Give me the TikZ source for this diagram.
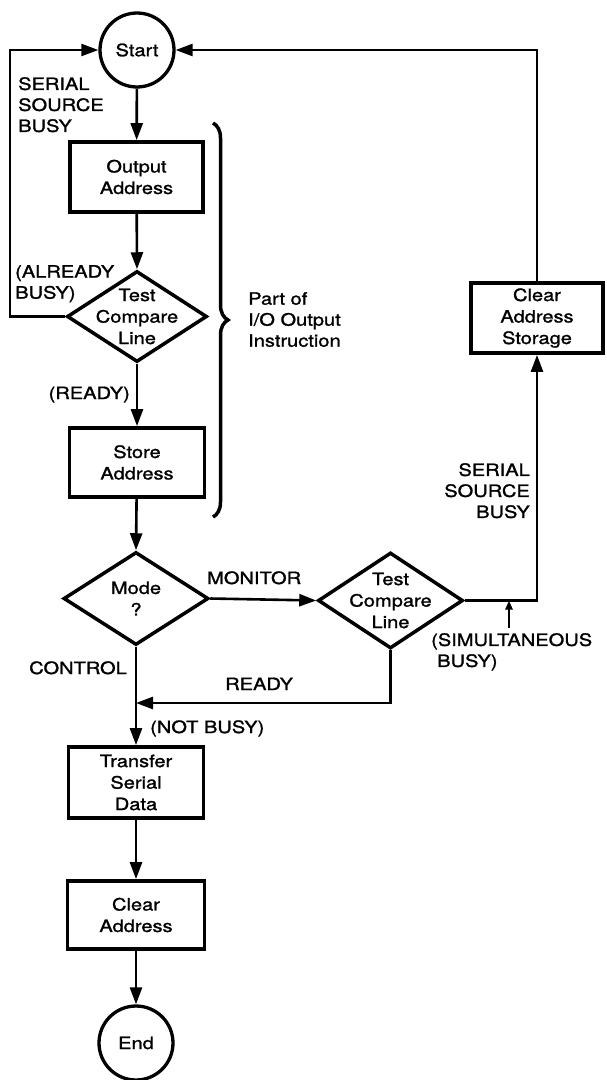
\documentclass[tikz,border=0pt]{standalone}
\usepackage{fontspec}
\setmainfont{TeX Gyre Heros}[FakeStretch=1.18,FakeBold=1.3]
\usetikzlibrary{shapes.geometric,arrows.meta,decorations.pathreplacing}
\tikzset{
  txt/.style={font=\fontsize{17}{21.5}\selectfont, inner sep=0pt, align=center},
  lbl/.style={font=\fontsize{17}{21}\selectfont, inner sep=0pt},
  boxnode/.style={txt, rectangle, draw, line width=3.8pt},
  dia/.style={diamond, draw, line width=3.5pt, inner sep=0pt},
  term/.style={txt, circle, draw, line width=3.3pt, minimum size=74pt},
  conn/.style={line width=2.6pt},
  arr/.style={conn, -{Triangle[length=17pt,width=12pt]}},
  smallarr/.style={line width=2.4pt, -{Triangle[length=9pt,width=7pt]}},
}
\begin{document}
\begin{tikzpicture}[x=1pt,y=-1pt]
\useasboundingbox (0,0) rectangle (606,1080);
% nodes
\node[term] (start) at (137,50) {Start};
\node[boxnode, minimum width=133pt, minimum height=70pt] (outaddr) at (136.5,177) {Output\\Address};
\node[dia, minimum width=140pt, minimum height=91pt] (tc1) at (137,316.5) {};
\node[txt] (tc1t) at (137,316.5) {Test\\Compare\\Line};
\node[boxnode, minimum width=135pt, minimum height=69pt] (storeaddr) at (137,462.5) {Store\\Address};
\node[dia, minimum width=145pt, minimum height=93pt] (mode) at (136,598.5) {};
\node[txt] (modet) at (136,598.5) {Mode\\?};
\node[dia, minimum width=145pt, minimum height=96pt] (tc2) at (390.5,600.5) {};
\node[txt] (tc2t) at (390.5,600.5) {Test\\Compare\\Line};
\node[boxnode, minimum width=132pt, minimum height=70pt] (cas) at (537,318) {Clear\\Address\\Storage};
\node[boxnode, minimum width=135pt, minimum height=71pt] (transfer) at (136,782.5) {Transfer\\Serial\\Data};
\node[boxnode, minimum width=137pt, minimum height=68pt] (clearaddr) at (136,915) {Clear\\Address};
\node[term] (end) at (136,1043) {End};
% helper coordinates
\coordinate (lx) at (10,0);
\coordinate (j1) at (136,703);
\coordinate (sa) at (509,628);
% connectors
\draw[arr] (start) -- (outaddr);
\draw[arr] (outaddr) -- (tc1.north);
\draw[arr] (tc1.south) -- (storeaddr);
\draw[arr] (storeaddr) -- (mode.north);
\draw[arr, line width=2.2pt] (tc1.west) -- (tc1.west -| lx) |- (start.west);
\draw[arr] (mode.east) -- (tc2.west);
\draw[arr] (tc2.east) -| (cas.south);
\draw[arr] (cas.north) |- (start.east);
\draw[arr] (mode.south) -- (transfer.north);
\draw[arr] (tc2.south) |- (j1);
\draw[arr] (transfer) -- (clearaddr);
\draw[arr] (clearaddr) -- (end);
\draw[smallarr] (sa) -- (sa |- tc2.east);
% brace
\draw[line width=3.5pt, decorate, decoration={brace, amplitude=15pt}] (213,123) -- (213,517);
% labels
\node[lbl, anchor=north west, align=left] (l1) at (18,77) {SERIAL\\SOURCE\\BUSY};
\node[lbl, anchor=north west, align=left] (l2) at (15,265) {(ALREADY\\BUSY)};
\node[lbl, anchor=base east] (l3) at (130,399) {(READY)};
\node[lbl, anchor=north west, align=left] (l4) at (248,292) {Part of\\I/O Output\\Instruction};
\node[lbl, anchor=base west] (l5) at (207,584) {MONITOR};
\node[lbl, anchor=base east] (l6) at (127,674) {CONTROL};
\node[lbl, anchor=base west] (l7) at (225,690) {READY};
\node[lbl, anchor=base west] (l8) at (150,733) {(NOT BUSY)};
\node[lbl, anchor=north west, align=left] (l9) at (431,633) {(SIMULTANEOUS\\\hspace*{6pt}BUSY)};
\node[lbl, anchor=north east, align=right] (l10) at (530,463) {SERIAL\\SOURCE\\BUSY};
\end{tikzpicture}
\end{document}
